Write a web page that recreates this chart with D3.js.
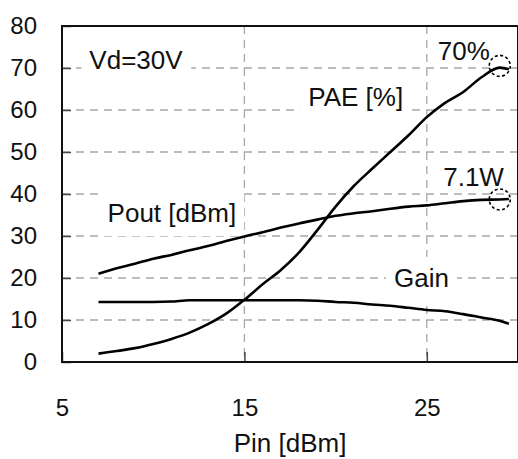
<!DOCTYPE html>
<html>
<head>
<meta charset="utf-8">
<script src="https://cdn.jsdelivr.net/npm/d3@7"></script>
<style>
  html, body { margin: 0; padding: 0; background: #fff; }
  svg { display: block; font-family: "Liberation Sans", Arial, sans-serif; }
</style>
</head>
<body>
<svg id="chart" width="518" height="459"></svg>
<script>
// ---- data ----
const pin   = [7, 8, 9, 10, 11, 12, 13, 14, 15, 16, 17, 18, 19, 20, 21, 22, 23, 24, 25, 26, 27, 28, 29, 29.5];
const pout  = [21.0, 22.3, 23.4, 24.6, 25.5, 26.6, 27.6, 28.8, 29.9, 30.9, 32.0, 33.0, 33.9, 34.8, 35.4, 35.9, 36.5, 37.0, 37.3, 37.8, 38.3, 38.6, 38.7, 38.8];
const gain  = [14.3, 14.3, 14.3, 14.3, 14.4, 14.7, 14.7, 14.7, 14.7, 14.7, 14.7, 14.7, 14.6, 14.3, 14.1, 13.7, 13.4, 12.9, 12.4, 12.1, 11.4, 10.6, 9.8, 9.1];
const pae   = [2.0, 2.6, 3.3, 4.3, 5.5, 7.0, 9.0, 11.5, 14.8, 18.5, 21.9, 26.1, 31.4, 37.0, 41.9, 46.0, 50.0, 54.0, 58.3, 61.7, 64.3, 67.8, 70.1, 69.7];
const xTicks = [5, 15, 25];
const yTicks = [0, 10, 20, 30, 40, 50, 60, 70, 80];
const markers = [{x: 29, y: 70.5}, {x: 29, y: 38.7}];
const labels = [
  {text: "Vd=30V",     x: 6.5,  y: 69.7, box: true},
  {text: "PAE [%]",    x: 18.5, y: 60.9, box: true},
  {text: "70%",        x: 25.6, y: 72,   box: false},
  {text: "7.1W",       x: 25.9, y: 42,   box: false},
  {text: "Pout [dBm]", x: 7.5,  y: 33.3, box: true},
  {text: "Gain",       x: 23.2, y: 17.9, box: true}
];

// ---- layout ----
const svg = d3.select("#chart");
const L = 62, R = 518, T = 26, B = 362;
const x = d3.scaleLinear().domain([5, 30]).range([L, R]);
const y = d3.scaleLinear().domain([0, 80]).range([B, T]);

// gridlines
const grid = svg.append("g");
grid.selectAll("line.h").data(yTicks.filter(v => v > 0 && v < 80)).join("line")
  .attr("x1", L).attr("x2", R).attr("y1", d => y(d)).attr("y2", d => y(d))
  .attr("stroke", "#a8a8a8").attr("stroke-width", 1.3).attr("stroke-dasharray", "8,6");
grid.selectAll("line.v").data(xTicks.filter(v => v > 5)).join("line")
  .attr("x1", d => x(d)).attr("x2", d => x(d)).attr("y1", T).attr("y2", B)
  .attr("stroke", "#a8a8a8").attr("stroke-width", 1.3).attr("stroke-dasharray", "8,6");

// text boxes (white backgrounds) first
const lab = svg.append("g");
labels.forEach(l => {
  const t = lab.append("text")
    .attr("x", x(l.x)).attr("y", y(l.y))
    .attr("font-size", 26).attr("fill", "#111").text(l.text);
  if (l.box) {
    const bb = t.node().getBBox();
    lab.insert("rect", "text")
      .attr("x", bb.x - 8).attr("y", bb.y - 6)
      .attr("width", bb.width + 16).attr("height", bb.height + 14)
      .attr("fill", "#fff");
  }
});

// axes
const yAxis = svg.append("g").attr("transform", `translate(${L},0)`)
  .call(d3.axisLeft(y).tickValues(yTicks).tickSize(-9).tickPadding(25).tickFormat(d3.format("d")));
const xAxis = svg.append("g").attr("transform", `translate(0,${B})`)
  .call(d3.axisBottom(x).tickValues(xTicks).tickSize(-10).tickPadding(37).tickFormat(d3.format("d")));
[yAxis, xAxis].forEach(a => {
  a.select(".domain").remove();
  a.selectAll(".tick line").attr("stroke", "#444").attr("stroke-width", 1.5);
  a.selectAll(".tick text").attr("font-size", 24).attr("fill", "#111")
    .attr("font-family", "Liberation Sans, Arial, sans-serif");
});

// frame
svg.append("rect").attr("x", L).attr("y", T).attr("width", R - L).attr("height", B - T)
  .attr("fill", "none").attr("stroke", "#111").attr("stroke-width", 2);

// curves
const line = d3.line().curve(d3.curveMonotoneX).x(d => x(d[0])).y(d => y(d[1]));
[pout, gain, pae].forEach(s => {
  svg.append("path").datum(pin.map((p, i) => [p, s[i]]))
    .attr("d", line).attr("fill", "none").attr("stroke", "#000")
    .attr("stroke-width", 2.6).attr("stroke-linejoin", "round");
});

// dashed circle markers
svg.selectAll("circle.mk").data(markers).join("circle")
  .attr("cx", d => x(d.x)).attr("cy", d => y(d.y)).attr("r", 10.5)
  .attr("fill", "none").attr("stroke", "#000").attr("stroke-width", 1.6)
  .attr("stroke-dasharray", "3,2.5");

// axis title
svg.append("text").attr("x", (L + R) / 2).attr("y", 452)
  .attr("text-anchor", "middle").attr("font-size", 26).attr("fill", "#111")
  .text("Pin [dBm]");
</script>
</body>
</html>
